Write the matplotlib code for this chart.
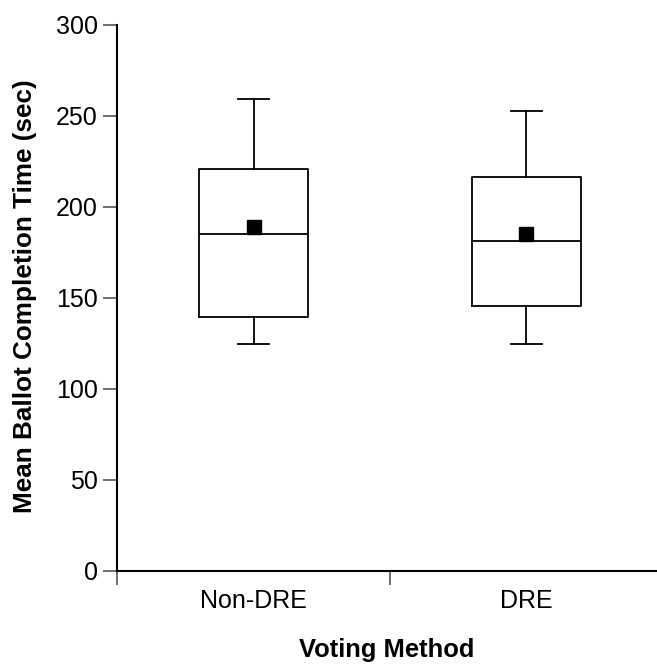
import matplotlib
matplotlib.use("Agg")
import matplotlib.pyplot as plt
from matplotlib.ticker import FixedLocator, NullFormatter

plt.rcParams['font.family'] = ['Liberation Sans', 'DejaVu Sans']

categories = ["Non-DRE", "DRE"]
whisker_low = [124.6, 124.6]
q1 = [139.3, 145.5]
median = [185.1, 181.3]
q3 = [220.7, 216.3]
whisker_high = [259.2, 252.9]
means = [189.1, 184.9]
y_ticks = [0, 50, 100, 150, 200, 250, 300]

fig = plt.figure(figsize=(6.57, 6.64), dpi=100)
ax = fig.add_axes([117.3 / 657, 93.3 / 664, 545.4 / 657, 545.7 / 664])

positions = [0.5, 1.5]
stats = []
for i, c in enumerate(categories):
    stats.append(dict(label=c, whislo=whisker_low[i], q1=q1[i], med=median[i],
                      q3=q3[i], whishi=whisker_high[i], mean=means[i]))

lw = 1.3
ax.bxp(stats, positions=positions, widths=0.4, showmeans=True, showfliers=False,
       boxprops=dict(color='black', linewidth=lw),
       medianprops=dict(color='black', linewidth=lw),
       whiskerprops=dict(color='black', linewidth=lw),
       capprops=dict(color='black', linewidth=lw),
       meanprops=dict(marker='s', markerfacecolor='black', markeredgecolor='black',
                      markersize=10),
       capwidths=0.113, manage_ticks=False)

ax.set_xlim(0, 2)
ax.set_ylim(0, 300)
ax.set_yticks(y_ticks)
ax.set_yticklabels([str(v) for v in y_ticks], fontsize=18)

ax.xaxis.set_major_locator(FixedLocator([0, 1, 2]))
ax.xaxis.set_major_formatter(NullFormatter())
ax.xaxis.set_minor_locator(FixedLocator(positions))
ax.set_xticklabels(categories, minor=True, fontsize=18)
ax.tick_params(axis='x', which='minor', length=0, pad=13)
ax.tick_params(axis='x', which='major', length=10, width=1.2, color='#555555', direction='out')
ax.tick_params(axis='y', which='major', length=10, width=1.2, color='#555555', direction='out', pad=4)

for s in ['top', 'right']:
    ax.spines[s].set_visible(False)
for s in ['left', 'bottom']:
    ax.spines[s].set_linewidth(1.5)
    ax.spines[s].set_color('black')

fig.text(32 / 657, 1 - 296.5 / 664, "Mean Ballot Completion Time (sec)", rotation=90,
         rotation_mode='anchor', ha='center', va='baseline', fontsize=18.8,
         fontweight='bold')
fig.text(386.5 / 657, 1 - 657 / 664, "Voting Method", ha='center', va='baseline',
         fontsize=18.4, fontweight='bold')

fig.savefig("out.png", dpi=100)
